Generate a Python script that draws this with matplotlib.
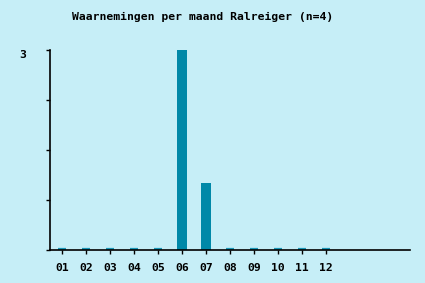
import matplotlib
matplotlib.use("Agg")
import matplotlib.pyplot as plt
import numpy as np

months = ["01", "02", "03", "04", "05", "06", "07", "08", "09", "10", "11", "12"]
counts = [0, 0, 0, 0, 0, 3, 1, 0, 0, 0, 0, 0]
title = "Waarnemingen per maand Ralreiger (n=4)"

bg = "#c6eef7"
bar_color = "#0088a8"
zero_color = "#1a97b8"

W, H = 425, 283
fig = plt.figure(figsize=(W / 100, H / 100), dpi=100, facecolor=bg)
ax = fig.add_axes([50 / W, (H - 250) / H, 360 / W, 200 / H], facecolor=bg)

x = np.arange(1, len(months) + 1)
vals = np.array(counts, dtype=float)
ax.bar(x, vals, width=0.38, color=bar_color, linewidth=0)
zero_mask = vals == 0
ax.bar(x[zero_mask], vals[zero_mask], width=0.33, color=zero_color,
       edgecolor=zero_color, linewidth=1.6, bottom=0.008)

ax.set_xlim(0.5, 15.5)
ax.set_ylim(0, 3)
for s in ["top", "right"]:
    ax.spines[s].set_visible(False)
for s in ["left", "bottom"]:
    ax.spines[s].set_linewidth(1.2)
    ax.spines[s].set_color("black")

font = dict(family="DejaVu Sans Mono", weight="bold", size=8.2)
ax.set_xticks(x)
ax.set_xticklabels(months, **font)
ax.set_yticks([0, 0.75, 1.5, 2.25, 3])
ax.set_yticklabels(["", "", "", "", "3"], **font, va="top")
ax.tick_params(axis="x", length=3, width=1, pad=6.5, direction="out")
ax.tick_params(axis="y", length=3, width=1, pad=14, direction="out")

fig.text(0.5 * (70 + 335) / W, 1 - 17 / H, title, ha="center", va="center", **font)

fig.savefig("out.png", dpi=100, facecolor=bg)
